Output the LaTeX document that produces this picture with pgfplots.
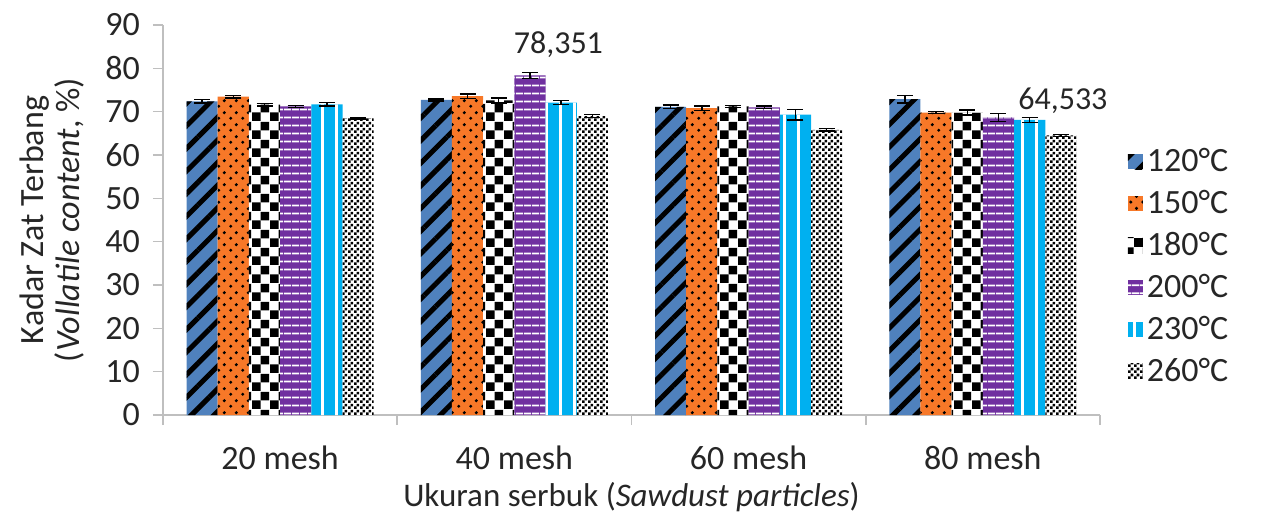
\documentclass[border=0pt]{standalone}
\usepackage{fontspec}
\setmainfont{Carlito}
\usepackage{pgfplots}
\usepackage{pgfplotstable}
\pgfplotsset{compat=1.18}
\usetikzlibrary{patterns,patterns.meta}

\definecolor{cBlue}{RGB}{79,129,189}
\definecolor{cOrange}{RGB}{247,120,40}
\definecolor{cPurple}{RGB}{112,48,160}
\definecolor{cCyan}{RGB}{0,176,240}
\definecolor{axgray}{RGB}{191,191,191}
\definecolor{txt}{RGB}{38,38,38}

\tikzdeclarepattern{
  name=BigChecker,
  type=uncolored,
  bottom left={(0pt,0pt)},
  top right={(9pt,9pt)},
  tile size={(9pt,9pt)},
  code={
    \fill (0pt,0pt) rectangle (4.5pt,4.5pt);
    \fill (4.5pt,4.5pt) rectangle (9pt,9pt);
  }
}
\tikzdeclarepattern{
  name=SmallChecker,
  type=uncolored,
  bottom left={(0pt,0pt)},
  top right={(3pt,3pt)},
  tile size={(3pt,3pt)},
  code={
    \fill (0pt,0pt) rectangle (1.5pt,1.5pt);
    \fill (1.5pt,1.5pt) rectangle (3pt,3pt);
  }
}
\tikzdeclarepattern{
  name=StagDots,
  type=uncolored,
  bottom left={(0pt,0pt)},
  top right={(6pt,6pt)},
  tile size={(6pt,6pt)},
  code={
    \fill (1.5pt,1.5pt) circle (0.9pt);
    \fill (4.5pt,4.5pt) circle (0.9pt);
  }
}

\pgfplotstableread{
x T120 e120 T150 e150 T180 e180 T200 e200 T230 e230 T260 e260
0 72.4 0.4 73.5 0.3 71.6 0.3 71.2 0.2 71.7 0.4 68.5 0.2
1 72.7 0.2 73.6 0.5 72.6 0.6 78.351 0.7 72.1 0.5 69.0 0.3
2 71.1 0.4 70.8 0.5 71.2 0.2 71.0 0.3 69.3 1.2 65.8 0.3
3 72.9 0.9 69.8 0.2 69.8 0.6 68.7 0.9 68.1 0.6 64.533 0.2
}\datatable

\pgfplotsset{
  myerr/.style={
    error bars/y dir=both,
    error bars/y explicit,
    error bars/error bar style={black, line width=0.7pt},
    error bars/error mark options={rotate=90, mark size=4pt, black, line width=0.7pt},
  },
}

\begin{document}
\begin{tikzpicture}
\useasboundingbox (-81.5pt,-50.5pt) rectangle (550pt,207.5pt);
\begin{axis}[
  scale only axis,
  width=468.5pt, height=195pt,
  ybar=0pt, bar width=15.6pt,
  xmin=-0.5, xmax=3.5,
  ymin=0, ymax=90,
  ytick={0,10,...,90},
  xtick={0,1,2,3},
  xticklabels={20 mesh,40 mesh,60 mesh,80 mesh},
  minor xtick={-0.5,0.5,1.5,2.5,3.5},
  major x tick style={draw=none},
  minor tick length=5pt,
  major tick length=5pt,
  tick align=outside,
  tick style={axgray, line width=0.8pt},
  axis x line*=bottom,
  axis y line*=left,
  axis line style={axgray, line width=0.8pt, -},
  clip=false,
  /pgf/number format/assume math mode=true,
  tick label style={font=\fontsize{17}{19}\selectfont, text=txt},
  yticklabel style={xshift=-3pt},
  xticklabel style={yshift=-7pt},
  label style={font=\fontsize{17}{18}\selectfont, text=txt},
  xlabel={Ukuran serbuk (\textit{Sawdust particles})},
  xlabel style={yshift=0.5pt, font=\fontsize{16.5}{18}\selectfont},
  ylabel={Kadar Zat Terbang\\(\textit{Vollatile content}, \%)},
  ylabel style={align=center, yshift=4pt},
  legend style={at={(1.023,0.381)}, anchor=west, draw=none, fill=none,
    font=\fontsize{17}{19}\selectfont, text=txt, row sep=3.8pt},
  legend cell align=left,
  legend image code/.code={\path[#1] (0pt,-3.8pt) rectangle (7.5pt,3.8pt);},
]
\addplot[draw=none, fill=cBlue, postaction={pattern={Lines[angle=45,distance=8pt,line width=2.5pt]}, pattern color=black}, myerr]
  table[x=x, y=T120, y error=e120] \datatable;
\addlegendentry{120°C}
\addplot[draw=none, fill=cOrange, postaction={pattern=StagDots, pattern color=black}, myerr]
  table[x=x, y=T150, y error=e150] \datatable;
\addlegendentry{150°C}
\addplot[draw=none, fill=white, postaction={pattern=BigChecker, pattern color=black}, myerr]
  table[x=x, y=T180, y error=e180] \datatable;
\addlegendentry{180°C}
\addplot[draw=none, fill=cPurple, postaction={pattern={Lines[angle=0,distance=4pt,line width=1pt]}, pattern color=white}, myerr]
  table[x=x, y=T200, y error=e200] \datatable;
\addlegendentry{200°C}
\addplot[draw=none, fill=cCyan, postaction={pattern={Lines[angle=90,distance=7pt,line width=1.5pt]}, pattern color=white}, myerr]
  table[x=x, y=T230, y error=e230] \datatable;
\addlegendentry{230°C}
\addplot[draw=none, fill=white, postaction={pattern=SmallChecker, pattern color=black}, myerr]
  table[x=x, y=T260, y error=e260] \datatable;
\addlegendentry{260°C}
\node[font=\fontsize{16}{18}\selectfont, text=txt] at (axis cs:1,85.4) [xshift=22pt] {78,351};
\node[font=\fontsize{16}{18}\selectfont, text=txt] at (axis cs:3,72.5) [xshift=40pt] {64,533};
\end{axis}
\end{tikzpicture}
\end{document}
